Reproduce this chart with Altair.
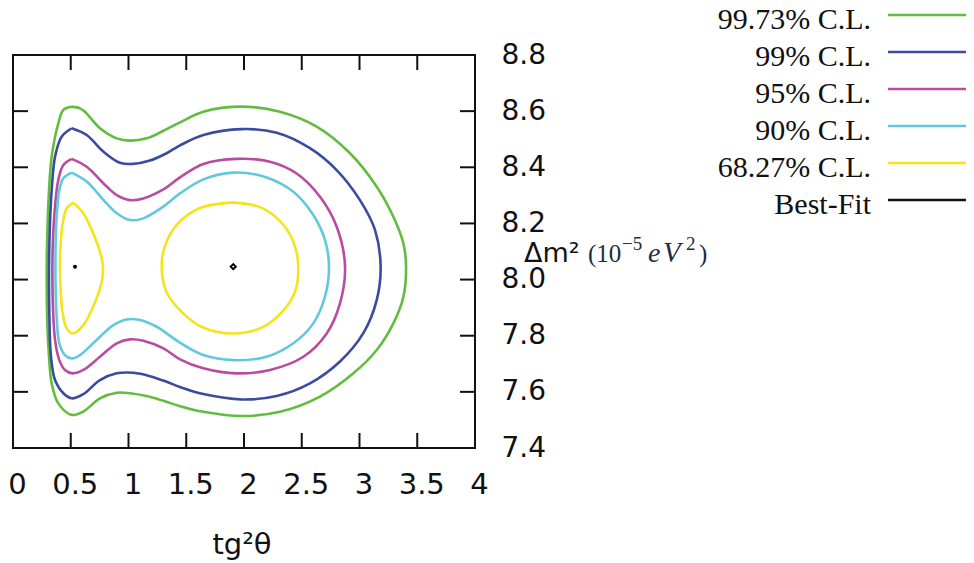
import altair as alt
import pandas as pd

# ---------------- data ----------------
levels = ["99.73% C.L.", "99% C.L.", "95% C.L.", "90% C.L.", "68.27% C.L.", "Best-Fit"]
colors = ["#62bd3f", "#3b4ba0", "#b94c9f", "#62c8dd", "#f3e51c", "#111111"]

green_x = [0.508, 0.580, 0.623, 0.753, 0.898, 1.013, 1.157, 1.302, 1.446, 1.648, 1.980, 2.312, 2.629, 2.918,
           3.149, 3.293, 3.380, 3.403, 3.380, 3.293, 3.149, 2.947, 2.658, 2.312, 1.980, 1.648, 1.446, 1.302,
           1.157, 1.013, 0.898, 0.753, 0.609, 0.508, 0.392, 0.335, 0.312, 0.297, 0.292, 0.300, 0.312, 0.335,
           0.392, 0.436, 0.508]
green_y = [8.616, 8.610, 8.598, 8.539, 8.503, 8.495, 8.503, 8.530, 8.560, 8.598, 8.616, 8.598, 8.545, 8.450,
           8.331, 8.224, 8.129, 8.046, 7.939, 7.844, 7.749, 7.666, 7.583, 7.529, 7.514, 7.529, 7.549, 7.568,
           7.585, 7.595, 7.597, 7.577, 7.530, 7.518, 7.559, 7.630, 7.725, 7.844, 8.046, 8.200, 8.319, 8.438,
           8.556, 8.604, 8.616]

blue_x = [0.508, 0.638, 0.782, 0.926, 1.042, 1.186, 1.330, 1.446, 1.648, 1.980, 2.283, 2.571, 2.802, 3.004,
          3.134, 3.183, 3.149, 3.033, 2.831, 2.571, 2.283, 1.980, 1.648, 1.446, 1.330, 1.186, 1.042, 0.898,
          0.753, 0.609, 0.508, 0.436, 0.364, 0.329, 0.315, 0.312, 0.320, 0.335, 0.364, 0.421, 0.508]
blue_y = [8.539, 8.515, 8.456, 8.416, 8.412, 8.424, 8.450, 8.478, 8.515, 8.536, 8.523, 8.468, 8.390, 8.283,
          8.177, 8.046, 7.927, 7.809, 7.708, 7.630, 7.585, 7.573, 7.592, 7.617, 7.636, 7.656, 7.668, 7.666,
          7.642, 7.592, 7.577, 7.595, 7.642, 7.725, 7.868, 8.046, 8.200, 8.319, 8.438, 8.509, 8.539]

magenta_x = [0.508, 0.638, 0.782, 0.898, 1.013, 1.128, 1.302, 1.446, 1.648, 1.937, 2.225, 2.456, 2.658, 2.802,
             2.875, 2.831, 2.716, 2.514, 2.225, 1.937, 1.648, 1.446, 1.302, 1.128, 1.013, 0.898, 0.753, 0.609,
             0.517, 0.450, 0.401, 0.364, 0.346, 0.341, 0.346, 0.364, 0.392, 0.436, 0.508]
magenta_y = [8.430, 8.402, 8.343, 8.301, 8.283, 8.289, 8.321, 8.364, 8.412, 8.430, 8.420, 8.378, 8.295, 8.189,
             8.046, 7.915, 7.808, 7.725, 7.678, 7.666, 7.684, 7.716, 7.755, 7.782, 7.787, 7.773, 7.725, 7.678,
             7.666, 7.678, 7.713, 7.785, 7.903, 8.046, 8.141, 8.260, 8.355, 8.408, 8.430]

cyan_x = [0.508, 0.638, 0.782, 0.898, 1.013, 1.128, 1.302, 1.446, 1.648, 1.908, 2.196, 2.427, 2.600, 2.701,
          2.736, 2.701, 2.600, 2.427, 2.196, 1.908, 1.648, 1.446, 1.244, 1.100, 0.984, 0.869, 0.724, 0.580,
          0.508, 0.450, 0.401, 0.378, 0.367, 0.378, 0.401, 0.436, 0.508]
cyan_y = [8.381, 8.349, 8.284, 8.236, 8.212, 8.218, 8.260, 8.307, 8.357, 8.381, 8.364, 8.313, 8.230, 8.141,
          8.046, 7.939, 7.844, 7.773, 7.725, 7.713, 7.731, 7.775, 7.832, 7.856, 7.858, 7.838, 7.785, 7.731,
          7.719, 7.731, 7.773, 7.868, 8.046, 8.224, 8.319, 8.361, 8.381]

yellow_left_x = [0.522, 0.609, 0.681, 0.739, 0.776, 0.776, 0.739, 0.681, 0.609, 0.517, 0.465, 0.430, 0.413,
                 0.407, 0.413, 0.430, 0.465, 0.522]
yellow_left_y = [8.274, 8.236, 8.177, 8.117, 8.058, 8.010, 7.951, 7.892, 7.838, 7.808, 7.826, 7.880, 7.963,
                 8.046, 8.129, 8.200, 8.254, 8.274]

yellow_right_x = [1.907, 2.138, 2.312, 2.427, 2.470, 2.440, 2.330, 2.160, 1.907, 1.640, 1.460, 1.330, 1.287,
                  1.316, 1.417, 1.619, 1.907]
yellow_right_y = [8.275, 8.258, 8.208, 8.135, 8.046, 7.955, 7.885, 7.830, 7.808, 7.830, 7.885, 7.955, 8.046,
                  8.120, 8.195, 8.255, 8.275]

bestfit_x = [0.537, 1.907]
bestfit_y = [8.046, 8.046]

x_ticks = [0, 0.5, 1, 1.5, 2, 2.5, 3, 3.5, 4]
y_ticks = [7.4, 7.6, 7.8, 8.0, 8.2, 8.4, 8.6, 8.8]

# ---------------- build tables ----------------
pieces = [
    (levels[0], "g", green_x, green_y),
    (levels[1], "b", blue_x, blue_y),
    (levels[2], "m", magenta_x, magenta_y),
    (levels[3], "c", cyan_x, cyan_y),
    (levels[4], "yl", yellow_left_x, yellow_left_y),
    (levels[4], "yr", yellow_right_x, yellow_right_y),
]
rows = []
for lev, pid, xs, ys in pieces:
    for i, (a, b) in enumerate(zip(xs, ys)):
        rows.append({"level": lev, "piece": pid, "i": i, "x": a, "y": b})
df = pd.DataFrame(rows)

W, H = 462, 393
TICK = 15
FRAME = "#111111"

xscale = alt.Scale(domain=[0, 4], nice=False, zero=False)
yscale = alt.Scale(domain=[7.4, 8.8], nice=False, zero=False)

contours = alt.Chart(df).mark_line(strokeWidth=2.6, interpolate="catmull-rom").encode(
    x=alt.X("x:Q", scale=xscale,
            axis=alt.Axis(values=x_ticks, format="~g", title=None, domain=False, ticks=False, tickSize=0,
                          grid=False, labelFont="DejaVu Sans", labelFontSize=29, labelColor="#111111",
                          labelPadding=22, labelOffset=4, labelFlush=False, labelOverlap=False)),
    y=alt.Y("y:Q", scale=yscale,
            axis=alt.Axis(orient="right", values=y_ticks, format=".1f", title=None, domain=False, ticks=False,
                          tickSize=0, grid=False, labelFont="DejaVu Sans", labelFontSize=28,
                          labelColor="#111111", labelPadding=26, labelFlush=False, labelOverlap=False)),
    color=alt.Color("level:N", scale=alt.Scale(domain=levels[:5], range=colors[:5]), legend=None),
    detail="piece:N",
    order="i:Q",
)

bf = pd.DataFrame({"x": bestfit_x, "y": bestfit_y})
bf_left = alt.Chart(bf.iloc[[0]]).mark_point(shape="circle", filled=True, size=16, color="#000000", opacity=1).encode(
    x=alt.X("x:Q", scale=xscale), y=alt.Y("y:Q", scale=yscale))
bf_right = alt.Chart(bf.iloc[[1]]).mark_point(shape="diamond", filled=False, size=26, strokeWidth=2,
                                              color="#000000", opacity=1).encode(
    x=alt.X("x:Q", scale=xscale), y=alt.Y("y:Q", scale=yscale))

xt = pd.DataFrame({"x": x_ticks})
yt = pd.DataFrame({"y": y_ticks})
tick_style = dict(color=FRAME, strokeWidth=2)
ticks_bottom = alt.Chart(xt).mark_rule(**tick_style).encode(
    x=alt.X("x:Q", scale=xscale), y=alt.value(H), y2=alt.value(H - TICK))
ticks_top = alt.Chart(xt).mark_rule(**tick_style).encode(
    x=alt.X("x:Q", scale=xscale), y=alt.value(0), y2=alt.value(TICK))
ticks_left = alt.Chart(yt).mark_rule(**tick_style).encode(
    y=alt.Y("y:Q", scale=yscale), x=alt.value(0), x2=alt.value(TICK))
ticks_right = alt.Chart(yt).mark_rule(**tick_style).encode(
    y=alt.Y("y:Q", scale=yscale), x=alt.value(W), x2=alt.value(W - TICK))

layers = [contours, bf_left, bf_right, ticks_bottom, ticks_top, ticks_left, ticks_right]

# ---------------- legend (labels right, sample lines) ----------------
LEG_TEXT_X = 858
LEG_LINE_X0, LEG_LINE_X1 = 875, 953
LEG_Y0, LEG_STEP = -40, 37
for k, (lab, col) in enumerate(zip(levels, colors)):
    ly = LEG_Y0 + k * LEG_STEP
    layers.append(
        alt.Chart(pd.DataFrame({"t": [lab]})).mark_text(
            align="right", baseline="alphabetic", font="Liberation Serif", fontSize=30, color="#111111"
        ).encode(text="t:N", x=alt.value(LEG_TEXT_X), y=alt.value(ly + 14))
    )
    layers.append(
        alt.Chart(pd.DataFrame({"t": [lab]})).mark_rule(color=col, strokeWidth=2.6).encode(
            x=alt.value(LEG_LINE_X0), x2=alt.value(LEG_LINE_X1), y=alt.value(ly))
    )

# ---------------- axis titles ----------------
def txt(s, x, y, font, size, color="#111111", style="normal", align="left"):
    return alt.Chart(pd.DataFrame({"t": [s]})).mark_text(
        align=align, baseline="alphabetic", font=font, fontSize=size, color=color, fontStyle=style
    ).encode(text="t:N", x=alt.value(x), y=alt.value(y))

SERIF_COL = "#262b40"
layers += [
    txt("tg²θ", 229, 499, "DejaVu Sans", 29, align="center"),
    txt("Δm²", 511, 207, "DejaVu Sans", 27),
    txt("(10", 575, 207, "Liberation Serif", 25, SERIF_COL),
    txt("−5", 609, 195, "Liberation Serif", 19, SERIF_COL),
    txt("e", 635, 207, "Liberation Serif", 28, SERIF_COL, style="italic"),
    txt("V", 650, 207, "Liberation Serif", 29, SERIF_COL, style="italic"),
    txt("2", 673, 195, "Liberation Serif", 19, SERIF_COL),
    txt(")", 686, 207, "Liberation Serif", 25, SERIF_COL),
]

chart = alt.layer(*layers).properties(
    width=W, height=H,
    autosize=alt.AutoSizeParams(type="none"),
    padding={"left": 5, "top": 47, "right": 491, "bottom": 118},
).configure_view(stroke=FRAME, strokeWidth=2)

chart.save("out.html", embed_options={"renderer": "svg", "actions": False})
